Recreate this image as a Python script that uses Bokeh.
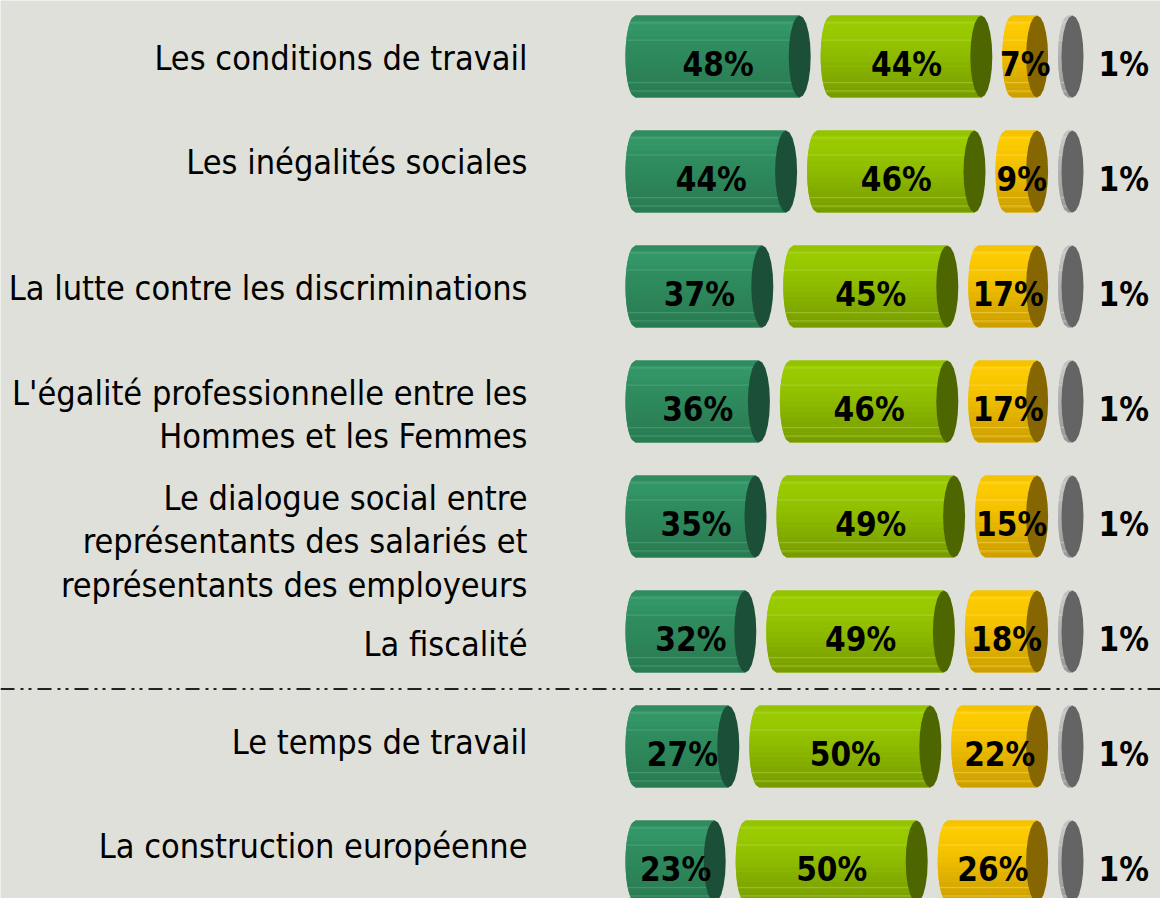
import math
from bokeh.plotting import figure
from bokeh.models import Range1d, Span
from bokeh.core.properties import value
from bokeh.embed import file_html
from bokeh.resources import INLINE

# ---------------- data ----------------
categories = [
    "Les conditions de travail",
    "Les inégalités sociales",
    "La lutte contre les discriminations",
    "L'égalité professionnelle entre les\nHommes et les Femmes",
    "Le dialogue social entre\nreprésentants des salariés et\nreprésentants des employeurs",
    "La fiscalité",
    "Le temps de travail",
    "La construction européenne",
]
tres_important = [48, 44, 37, 36, 35, 32, 27, 23]
plutot_important = [44, 46, 45, 46, 49, 49, 50, 50]
peu_important = [7, 9, 17, 17, 15, 18, 22, 26]
pas_important = [1, 1, 1, 1, 1, 1, 1, 1]
series = [tres_important, plutot_important, peu_important, pas_important]

# ---------------- styles ----------------
# (top edge, light band, mid, bottom, highlight line, cap)
palettes = [
    ("#2c8257", "#35996a", "#2f8d5f", "#297a50", "#63b08a", "#1c4f38"),
    ("#8fbf00", "#9ccd00", "#93c300", "#779a00", "#b9dc5a", "#4d6600"),
    ("#efbe00", "#ffcc00", "#f6c400", "#cb9d00", "#ffe070", "#866600"),
    ("#bdbdbd", "#c9c9c9", "#b6b6b6", "#999999", "#dcdcdc", "#646464"),
]
BG = "#dfe0da"
W, H = 1160, 898
PX = 3.4          # pixels per percentage point
ROW = 115.0       # pixels per row
X0 = 625          # figure pixel of x = 0
Y0 = 56           # figure pixel of first row centre
CAP = 22 / PX     # cylinder cap width (data units)
GAP = 10 / PX
BULGE = 10 / PX
BAR_H = 82 / ROW
LABEL_X = -98 / PX
label_dy = [1, -10, 1, 13, 25, 12, -5, -16]   # px offsets of category labels
NUM_DY = 8 / ROW

p = figure(width=W, height=H, output_backend="svg", toolbar_location=None,
           x_range=Range1d(-X0 / PX, (W - X0) / PX),
           y_range=Range1d((H - Y0) / ROW, -Y0 / ROW),
           min_border=0, background_fill_color=BG, border_fill_color=BG,
           outline_line_color=None)
p.axis.visible = False
p.xgrid.visible = False
p.ygrid.visible = False


def hex2rgb(h):
    h = h.lstrip("#")
    return tuple(int(h[i:i + 2], 16) for i in (0, 2, 4))


def mix(c1, c2, t):
    a, b = hex2rgb(c1), hex2rgb(c2)
    return "#%02x%02x%02x" % tuple(round(a[k] + (b[k] - a[k]) * t) for k in range(3))


def band_color(pal, f):
    top, light, mid, bot = pal[:4]
    if f < 0.08:
        return mix(top, light, f / 0.08)
    if f < 0.35:
        return mix(light, mid, (f - 0.08) / 0.27)
    return mix(mid, bot, (f - 0.35) / 0.65)


def left_off(f):
    t = 2 * f - 1
    return BULGE * (1 - math.sqrt(max(0.0, 1 - t * t)))


body_xs, body_ys, body_c = [], [], []
band_xs, band_ys, band_c = [], [], []
hl_xs, hl_ys, hl_c = [], [], []
cap_xs, cap_ys, cap_c = [], [], []
num_x, num_y, num_t, num_align = [], [], [], []
NB = 16

for i in range(len(categories)):
    yc = i
    ytop = yc - BAR_H / 2
    cursor = 0.0
    for s, vals in enumerate(series):
        v = vals[i]
        pal = palettes[s]
        a = cursor
        b = a + v + CAP
        c = b - CAP / 2
        # body outline
        fs = [k / 24 for k in range(25)]
        xs = [a + left_off(f) for f in fs] + [c, c]
        ys = [ytop + f * BAR_H for f in fs] + [ytop + BAR_H, ytop]
        body_xs.append(xs); body_ys.append(ys); body_c.append(palettes[s][2])
        # shaded bands
        for k in range(NB):
            f0, f1 = k / NB, (k + 1) / NB
            fm = (f0 + f1) / 2
            bx = [a + left_off(f0), a + left_off(fm), a + left_off(f1), c, c]
            by = [ytop + f0 * BAR_H, ytop + fm * BAR_H, ytop + f1 * BAR_H,
                  ytop + f1 * BAR_H, ytop + f0 * BAR_H]
            band_xs.append(bx); band_ys.append(by); band_c.append(band_color(pal, fm))
        # highlight lines
        for f in (0.09, 0.3, 0.82, 0.92):
            hl_xs.append([a + left_off(f), c]); hl_ys.append([ytop + f * BAR_H] * 2)
            hl_c.append(pal[4])
        # cap (polygonal ellipse)
        n = 20
        cx = [c + CAP / 2 * math.cos(2 * math.pi * k / n) for k in range(n)]
        cy = [yc + BAR_H / 2 * math.sin(2 * math.pi * k / n) for k in range(n)]
        cap_xs.append(cx); cap_ys.append(cy); cap_c.append(pal[5])
        # value label
        if v >= 3:
            num_x.append((a + b) / 2); num_align.append("center")
        else:
            num_x.append(b + 15 / PX); num_align.append("left")
        num_y.append(yc + NUM_DY)
        num_t.append(f"{v}%")
        cursor = b + GAP

p.patches(body_xs, body_ys, fill_color=body_c, line_color=None)
p.patches(band_xs, band_ys, fill_color=band_c, line_color=None)
p.multi_line(hl_xs, hl_ys, line_color=hl_c, line_width=1, line_alpha=0.55)
p.patches(cap_xs, cap_ys, fill_color=cap_c, line_color=None)

p.text(x=num_x, y=num_y, text=num_t, text_align=num_align, text_baseline="middle",
       text_font=value("DejaVu Sans Condensed"), text_font_style="bold",
       text_font_size="33px", text_color="black")

lab_y = [i + label_dy[i] / ROW for i in range(len(categories))]
p.text(x=[LABEL_X] * len(categories), y=lab_y, text=categories,
       text_align="right", text_baseline="middle",
       text_font=value("DejaVu Sans Condensed"), text_font_size="34px",
       text_line_height=1.09, text_color="black")

p.add_layout(Span(location=5.5, dimension="width", line_color="#222222",
                  line_width=2, line_dash="14 6 3 5 3 6"))

open("out.html", "w").write(file_html(p, INLINE))
